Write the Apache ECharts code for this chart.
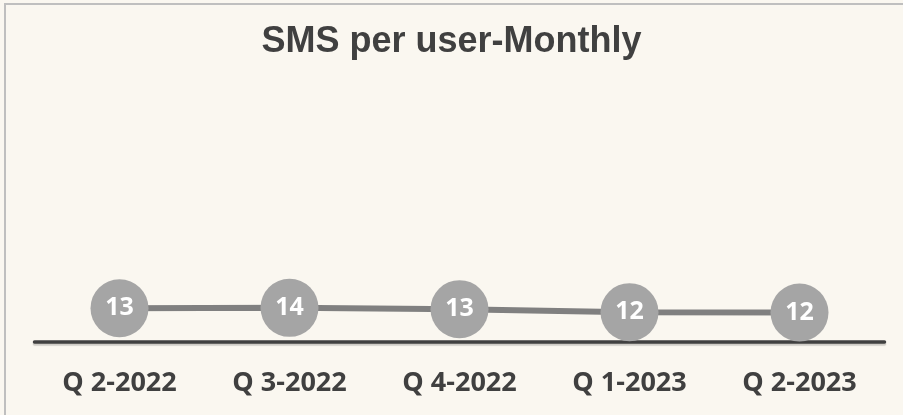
<!DOCTYPE html>
<html>
<head>
<meta charset="utf-8">
<script src="https://cdn.jsdelivr.net/npm/echarts@6/dist/echarts.min.js"></script>
<style>
  html, body { margin: 0; padding: 0; background: #faf7f0; }
  #chart { width: 903px; height: 415px; }
</style>
</head>
<body>
<div id="chart"></div>
<script>
// quarters on the x axis
const quarters = ["Q 2-2022", "Q 3-2022", "Q 4-2022", "Q 1-2023", "Q 2-2023"];
// SMS per user (labels show them rounded)
const smsPerUser = [13.44, 13.56, 13.04, 11.83, 11.67];

const chart = echarts.init(document.getElementById("chart"));

const option = {
  backgroundColor: "#faf7f0",
  animation: false,
  title: {
    text: "SMS per user-Monthly",
    left: "center",
    top: 19,
    textStyle: {
      fontFamily: "Liberation Sans",
      fontWeight: "bold",
      fontSize: 36,
      color: "#404040"
    }
  },
  graphic: [
    {
      type: "rect",
      shape: { x: 5, y: 4, width: 1000, height: 500 },
      style: { fill: "none", stroke: "#bfbfbf", lineWidth: 2 },
      silent: true
    }
  ],
  grid: {
    left: 34.5,
    right: 18.5,
    top: 93.5,
    bottom: 73.5,
    containLabel: false
  },
  xAxis: {
    type: "category",
    data: quarters,
    boundaryGap: true,
    axisTick: { show: false },
    axisLine: {
      lineStyle: {
        color: "#404040",
        width: 3.5,
        shadowColor: "rgba(0,0,0,0.18)",
        shadowOffsetY: 2,
        shadowBlur: 1
      }
    },
    axisLabel: {
      margin: 28,
      fontFamily: "Open Sans",
      fontWeight: "bold",
      fontSize: 27,
      color: "#404040"
    }
  },
  yAxis: {
    type: "value",
    min: 0,
    max: 100,
    show: false,
    splitLine: { show: false }
  },
  series: [
    {
      type: "line",
      data: smsPerUser,
      symbol: "circle",
      symbolSize: 58,
      itemStyle: { color: "#a5a5a5" },
      lineStyle: { color: "#808080", width: 6 },
      label: {
        show: true,
        position: "inside",
        formatter: (p) => Math.round(p.value),
        fontFamily: "Open Sans",
        fontWeight: "bold",
        fontSize: 25,
        color: "#ffffff"
      }
    }
  ]
};

chart.setOption(option);
</script>
</body>
</html>
